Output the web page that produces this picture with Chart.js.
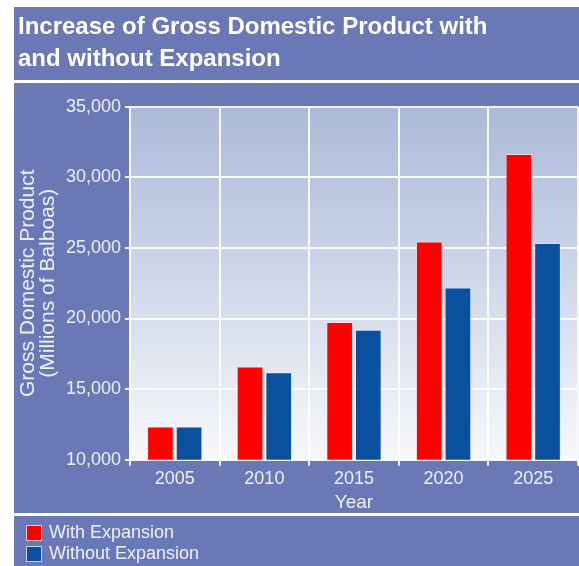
<!DOCTYPE html>
<html>
<head>
<meta charset="utf-8">
<title>PIB avec et sans expansion</title>
<script src="https://cdn.jsdelivr.net/npm/chart.js@4.4.1/dist/chart.umd.min.js"></script>
<style>
  body { margin: 0; background: #fff; }
  #cadre { position: relative; width: 579px; height: 566px; overflow: hidden; font-family: "Liberation Sans", Arial, sans-serif; }
  .bande { position: absolute; left: 14px; right: 0; }
  #legende { position: absolute; left: 26px; top: 522px; color: #eef0f8; font-size: 18px; }
  .item { display: flex; align-items: center; height: 21px; }
  .boite { width: 14px; height: 14px; border: 1px solid rgba(255,255,255,0.75); margin-right: 7px; }
  canvas { position: absolute; left: 0; top: 0; }
</style>
</head>
<body>
<div id="cadre">
  <div class="bande" style="top:7px;bottom:0;background:#6a78b5"></div>
  <div class="bande" style="top:80px;height:3px;background:#fff"></div>
  <div class="bande" style="top:513px;height:3px;background:#fff"></div>
  <canvas id="graphique" width="579" height="566"></canvas>
  <div id="legende"></div>
</div>
<script>
// Données
const annees = ['2005', '2010', '2015', '2020', '2025'];
const avecExpansion = [12350, 16600, 19750, 25450, 31650];
const sansExpansion = [12350, 16200, 19200, 22200, 25350];
const titreGraphique = ['Increase of Gross Domestic Product with', 'and without Expansion'];
const titreAxeY = ['Gross Domestic Product', '(Millions of Balboas)'];
const titreAxeX = 'Year';

const blanc = '#eef0f8';
const police = 'Liberation Sans, Arial, sans-serif';

// Fond dégradé de la zone de tracé
const fondDegrade = {
  id: 'fondDegrade',
  beforeDraw(chart) {
    const { ctx, chartArea: a } = chart;
    if (!a) return;
    const g = ctx.createLinearGradient(0, a.top, 0, a.bottom);
    g.addColorStop(0, '#abbad8');
    g.addColorStop(0.5, '#d0d8ea');
    g.addColorStop(1, '#f7f8fb');
    ctx.save();
    ctx.fillStyle = g;
    ctx.fillRect(a.left, a.top, a.right - a.left, a.bottom - a.top);
    ctx.restore();
  }
};

const chart = new Chart(document.getElementById('graphique'), {
  type: 'bar',
  data: {
    labels: annees,
    datasets: [
      { label: 'With Expansion', data: avecExpansion, backgroundColor: '#ff0000', borderColor: 'rgba(255,225,225,0.8)', borderWidth: 1 },
      { label: 'Without Expansion', data: sansExpansion, backgroundColor: '#0b4f9f', borderColor: 'rgba(220,230,255,0.6)', borderWidth: 1 }
    ]
  },
  options: {
    responsive: false,
    animation: false,
    categoryPercentage: 0.64,
    barPercentage: 0.93,
    layout: { padding: { left: 18, right: 1, top: 0, bottom: 53 } },
    plugins: {
      legend: { display: false },
      tooltip: { enabled: false },
      title: {
        display: true,
        text: titreGraphique,
        align: 'start',
        color: '#ffffff',
        font: { family: police, size: 24, weight: 'bold', lineHeight: 1.33 },
        padding: { top: 11, bottom: 32 }
      }
    },
    scales: {
      x: {
        offset: true,
        grid: { offset: true, color: 'rgba(255,255,255,0.9)', lineWidth: 2, tickLength: 6 },
        border: { color: '#ffffff' },
        ticks: { color: blanc, font: { family: police, size: 18 }, padding: 3 },
        title: { display: true, text: titreAxeX, color: blanc, font: { family: police, size: 19, lineHeight: 1.04 }, padding: { top: 0, bottom: 0 } }
      },
      y: {
        min: 10000,
        max: 35000,
        grid: { color: 'rgba(255,255,255,0.9)', lineWidth: 2, tickLength: 5 },
        border: { color: '#ffffff' },
        ticks: {
          stepSize: 5000,
          color: blanc,
          font: { family: police, size: 18 },
          padding: 4,
          callback: v => v.toLocaleString('en-US')
        },
        title: { display: true, text: titreAxeY, color: blanc, font: { family: police, size: 21, lineHeight: 0.95 }, padding: { top: 0, bottom: 4 } }
      }
    }
  },
  plugins: [fondDegrade]
});

// Légende HTML construite à partir des jeux de données
const legende = document.getElementById('legende');
chart.data.datasets.forEach(ds => {
  const item = document.createElement('div');
  item.className = 'item';
  item.innerHTML = '<span class="boite" style="background:' + ds.backgroundColor + '"></span>' + ds.label;
  legende.appendChild(item);
});
</script>
</body>
</html>
